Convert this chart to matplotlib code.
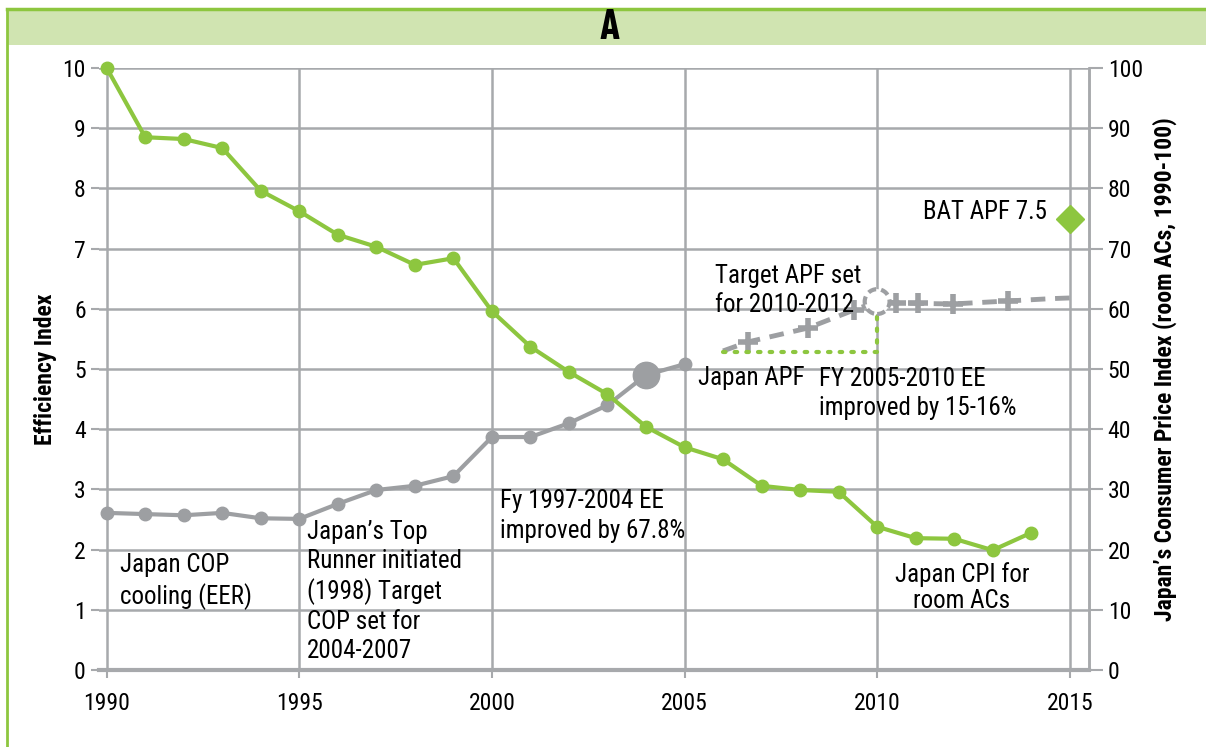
import matplotlib
matplotlib.use("Agg")
import matplotlib.pyplot as plt
from matplotlib.patches import Rectangle
from matplotlib.lines import Line2D

plt.rcParams['font.family'] = ['Roboto Condensed', 'Archivo Narrow', 'Barlow Condensed', 'DejaVu Sans']

# ---------------- data ----------------
cpi_years = list(range(1990, 2015))
cpi_values = [100, 88.5, 88.2, 86.7, 79.6, 76.2, 72.3, 70.3, 67.3, 68.4, 59.6,
              53.7, 49.5, 45.8, 40.4, 37.0, 35.0, 30.6, 29.9, 29.6, 23.8,
              21.9, 21.8, 19.9, 22.8]

cop_years = list(range(1990, 2006))
cop_values = [2.61, 2.59, 2.57, 2.61, 2.52, 2.51, 2.76, 2.99, 3.06, 3.22,
              3.87, 3.87, 4.10, 4.40, 4.90, 5.08]

apf_years = [2006.0, 2006.65, 2008.2, 2009.4, 2010.0, 2010.5, 2011.05, 2011.96, 2013.4, 2014.56, 2015.0]
apf_values = [5.30, 5.45, 5.68, 5.98, 6.12, 6.10, 6.09, 6.08, 6.13, 6.17, 6.18]
apf_marker_years = [2006.65, 2008.2, 2009.4, 2010.5, 2011.05, 2011.96, 2013.4]
apf_marker_values = [5.45, 5.68, 5.98, 6.10, 6.09, 6.08, 6.13]

ee_years = [2006.0, 2010.0, 2010.0]
ee_values = [5.28, 5.28, 6.10]

bat_year = [2015]
bat_value = [7.5]

highlight_cop_year = [2004]
highlight_cop_value = [4.90]
target_year = [2010]
target_value = [6.12]

x_ticks = [1990, 1995, 2000, 2005, 2010, 2015]
y_ticks = list(range(0, 11))
y2_ticks = list(range(0, 101, 10))

GREEN = '#8dc63f'
GRAY = '#9d9fa2'
GRID = '#a7a9ac'

fig = plt.figure(figsize=(12.06, 7.47), dpi=100)

# frame + title band
fig.patches.append(Rectangle((7/1206, 1-45/747), 1-7/1206, 37/747, transform=fig.transFigure,
                             facecolor='#d0e4b1', edgecolor='none', zorder=0))
fig.add_artist(Line2D([7/1206, 1], [1-9/747, 1-9/747], transform=fig.transFigure, color=GREEN, lw=2.5))
fig.add_artist(Line2D([7/1206, 7/1206], [0, 1-9/747], transform=fig.transFigure, color=GREEN, lw=2))
fig.text(610/1206, 1-28/747, 'A', ha='center', va='center', fontsize=30, fontweight='bold',
         family=['Barlow Condensed', 'Roboto Condensed', 'DejaVu Sans'])

ax = fig.add_axes([99/1206, 1-670/747, (1089-99)/1206, (670-68)/747])
ax.set_xlim(1989.8, 2015.5)
ax.set_ylim(0, 10)
ax.set_xticks(x_ticks)
ax.set_yticks(y_ticks)
ax.grid(True, color=GRID, lw=1.8, zorder=0)
ax.set_axisbelow(True)
for s in ['top', 'left']:
    ax.spines[s].set_visible(False)
ax.spines['bottom'].set_color(GRID)
ax.spines['bottom'].set_linewidth(3)
ax.spines['right'].set_color(GRID)
ax.spines['right'].set_linewidth(1.8)
ax.tick_params(axis='both', colors=GRID, labelcolor='black', labelsize=17, width=1.5, length=6)
ax.tick_params(axis='x', pad=10)
ax.set_ylabel('Efficiency Index', fontsize=17, fontweight='bold', labelpad=4)

ax2 = ax.twinx()
ax2.set_ylim(0, 100)
ax2.set_yticks(y2_ticks)
for s in ['top', 'left', 'bottom']:
    ax2.spines[s].set_visible(False)
ax2.spines['right'].set_color(GRID)
ax2.spines['right'].set_linewidth(1.8)
ax2.tick_params(axis='y', colors=GRID, labelcolor='black', labelsize=17, width=1.5, length=10)
ax2.set_ylabel("Japan\u2019s Consumer Price Index (room ACs, 1990-100)", fontsize=17,
               fontweight='bold', labelpad=7)

# series
ax2.plot(cpi_years, cpi_values, color=GREEN, lw=3, marker='o', ms=9, zorder=4, clip_on=False)
ax.plot(cop_years, cop_values, color=GRAY, lw=3, marker='o', ms=9, zorder=3, clip_on=False)
ax.plot(highlight_cop_year, highlight_cop_value, 'o', color=GRAY, ms=19, zorder=3)
ax.plot(apf_years, apf_values, color=GRAY, lw=3.5, ls=(0, (3, 2)), zorder=3)
ax.plot(apf_marker_years, apf_marker_values, '+', color=GRAY, ms=14, mew=4, zorder=3)
ax.plot(ee_years, ee_values, color=GREEN, lw=3, ls=(0, (0.6, 2.2)), dash_capstyle='round', zorder=4)
ax.scatter(target_year, target_value, s=320, facecolor='white', edgecolor=GRAY, linewidths=3,
           linestyle=(0, (2, 1.2)), zorder=5)
ax.plot(bat_year, bat_value, 'D', color=GREEN, ms=14, zorder=4, clip_on=False)

# annotations
fs = 18
ax.text(1990.35, 1.95, 'Japan COP\ncooling (EER)', fontsize=fs, va='top', linespacing=1.3)
ax.text(1995.2, 2.5, 'Japan\u2019s Top\nRunner initiated\n(1998) Target\nCOP set for\n2004-2007', fontsize=fs,
        va='top', linespacing=1.27)
ax.text(2000.2, 3.0, 'Fy 1997-2004 EE\nimproved by 67.8%', fontsize=fs, va='top', linespacing=1.3)
ax.text(2005.35, 5.05, 'Japan APF', fontsize=fs, va='top')
ax.text(2008.5, 5.03, 'FY 2005-2010 EE\nimproved by 15-16%', fontsize=fs, va='top', linespacing=1.25)
ax.text(2005.8, 6.75, 'Target APF set\nfor 2010-2012', fontsize=fs, va='top', linespacing=1.3)
ax.text(2014.4, 7.6, 'BAT APF 7.5', fontsize=fs, va='center', ha='right')
ax.text(2012.2, 1.8, 'Japan CPI for\nroom ACs', fontsize=fs, va='top', ha='center', linespacing=1.15)

fig.savefig('out.png', dpi=100)
